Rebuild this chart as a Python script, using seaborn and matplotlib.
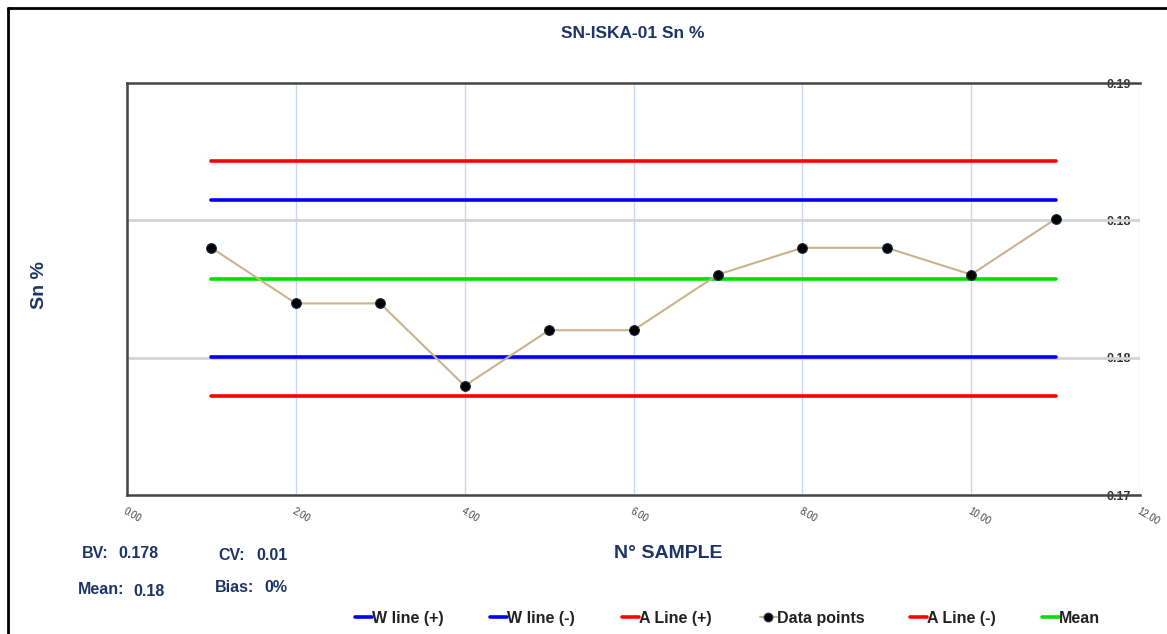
import matplotlib
matplotlib.use("Agg")
import matplotlib.pyplot as plt
from matplotlib.lines import Line2D
from matplotlib.ticker import FixedLocator, FormatStrFormatter
import numpy as np
import pandas as pd
import seaborn as sns

# Control chart data for SN-ISKA-01 (Sn %)
sample_no = [1, 2, 3, 4, 5, 6, 7, 8, 9, 10, 11]
sn_values = [0.1820, 0.1793, 0.1793, 0.1753, 0.1780, 0.1780,
             0.1807, 0.1820, 0.1820, 0.1807, 0.1834]
mean_level = 0.1805
w_plus = 0.1843
w_minus = 0.1767
a_plus = 0.1862
a_minus = 0.1748

stat_bv = "0.178"
stat_cv = "0.01"
stat_mean = "0.18"
stat_bias = "0%"

y_ticks = [0.17, 0.17667, 0.18333, 0.19]
x_ticks = [0, 2, 4, 6, 8, 10, 12]

NAVY = "#1d3566"
DARK = "#222222"

sns.set_theme(style="white")
plt.rcParams["font.family"] = ["Liberation Sans", "DejaVu Sans"]

fig = plt.figure(figsize=(11.67, 6.34), dpi=100)
ax = fig.add_axes([127 / 1167, 1 - 495 / 634, (1140 - 127) / 1167, (495 - 83) / 634])

x_lo, x_hi = sample_no[0], sample_no[-1]
limits = pd.DataFrame({
    "x": [x_lo, x_hi] * 5,
    "y": [w_plus] * 2 + [w_minus] * 2 + [a_plus] * 2 + [a_minus] * 2 + [mean_level] * 2,
    "name": ["W line (+)"] * 2 + ["W line (-)"] * 2 + ["A Line (+)"] * 2
            + ["A Line (-)"] * 2 + ["Mean"] * 2,
})
limit_colors = {"W line (+)": "#0000ff", "W line (-)": "#0000ff",
                "A Line (+)": "#ff0000", "A Line (-)": "#ff0000",
                "Mean": "#00e000"}

sns.lineplot(data=limits, x="x", y="y", hue="name", palette=limit_colors,
             linewidth=2.6, ax=ax, legend=False, zorder=3)

points = pd.DataFrame({"sample": sample_no, "value": sn_values})
sns.lineplot(data=points, x="sample", y="value", color="#c8b48a", linewidth=1.5,
             marker="o", markersize=7, markerfacecolor="black",
             markeredgecolor="#1a2a44", markeredgewidth=0.8, ax=ax, zorder=4)

ax.set_xlim(0, 12)
ax.set_ylim(0.17, 0.19)
ax.xaxis.set_major_locator(FixedLocator(x_ticks))
ax.xaxis.set_major_formatter(FormatStrFormatter("%.2f"))
ax.yaxis.set_major_locator(FixedLocator(y_ticks))
ax.yaxis.set_major_formatter(FormatStrFormatter("%.2f"))

# grid: light blue verticals, grey horizontals
for xv in x_ticks[1:]:
    ax.axvline(xv, color="#c9d8f0", linewidth=1.0, zorder=1)
for yv in y_ticks[1:-1]:
    ax.axhline(yv, color="#d4d4d4", linewidth=2.0, zorder=1)

for side in ["left", "bottom", "top"]:
    ax.spines[side].set_visible(True)
    ax.spines[side].set_color("#444444")
    ax.spines[side].set_linewidth(1.8)
ax.spines["right"].set_visible(False)

ax.tick_params(axis="y", left=False, right=True, labelleft=False, labelright=True,
               direction="in", length=0, pad=-24, labelsize=9, labelcolor="#333333")
for lab in ax.get_yticklabels():
    lab.set_fontweight("bold")
ax.tick_params(axis="x", bottom=False, length=0, pad=8, labelsize=7,
               labelcolor="#444444")
for lab in ax.get_xticklabels():
    lab.set_rotation(-30)
    lab.set_ha("left")
    lab.set_va("top")
    lab.set_rotation_mode("anchor")

ax.set_xlabel("")
ax.set_ylabel("")

fig.text(633 / 1167, 1 - 33 / 634, "SN-ISKA-01 Sn %", ha="center", va="center",
         fontsize=12.5, fontweight="bold", color=NAVY)
fig.text(40 / 1167, 1 - 285 / 634, "Sn %", ha="center", va="center", rotation=90,
         fontsize=14, fontweight="bold", color=NAVY)
fig.text(668 / 1167, 1 - 553 / 634, "N° SAMPLE", ha="center", va="center",
         fontsize=14, fontweight="bold", color=NAVY)

stat_items = [
    (82, 554, "BV:"), (118, 554, stat_bv),
    (218, 556, "CV:"), (256, 556, stat_cv),
    (78, 590, "Mean:"), (133, 591, stat_mean),
    (215, 588, "Bias:"), (264, 588, stat_bias),
]
for px, py, txt in stat_items:
    fig.text(px / 1167, 1 - py / 634, txt, ha="left", va="center",
             fontsize=11.5, fontweight="bold", color=NAVY)

# legend row: one entry per box so every label sits on the same baseline
legend_entries = [
    (355, "W line (+)", dict(color="#0000ff", linewidth=2.6)),
    (490, "W line (-)", dict(color="#0000ff", linewidth=2.6)),
    (622, "A Line (+)", dict(color="#ff0000", linewidth=2.6)),
    (760, "Data points", dict(color="#c8b48a", linewidth=1.5, marker="o", markersize=6,
                              markerfacecolor="black", markeredgecolor="#1a2a44")),
    (910, "A Line (-)", dict(color="#ff0000", linewidth=2.6)),
    (1042, "Mean", dict(color="#00e000", linewidth=2.6)),
]
for px, label, style in legend_entries:
    leg = fig.legend([Line2D([], [], **style)], [label], loc="lower left",
                     bbox_to_anchor=(px / 1167, 1 - 626 / 634), frameon=False,
                     borderpad=0, borderaxespad=0, handlelength=1.05,
                     handletextpad=0.02, prop={"weight": "bold", "size": 11.5})
    for t in leg.get_texts():
        t.set_color(DARK)

# outer frame (top and left edges)
fig.add_artist(Line2D([8 / 1167, 1.0], [1 - 8 / 634, 1 - 8 / 634],
                      transform=fig.transFigure, color="black", linewidth=2))
fig.add_artist(Line2D([8 / 1167, 8 / 1167], [0.0, 1 - 8 / 634],
                      transform=fig.transFigure, color="black", linewidth=2))

fig.savefig("out.png", dpi=100, facecolor="white")
